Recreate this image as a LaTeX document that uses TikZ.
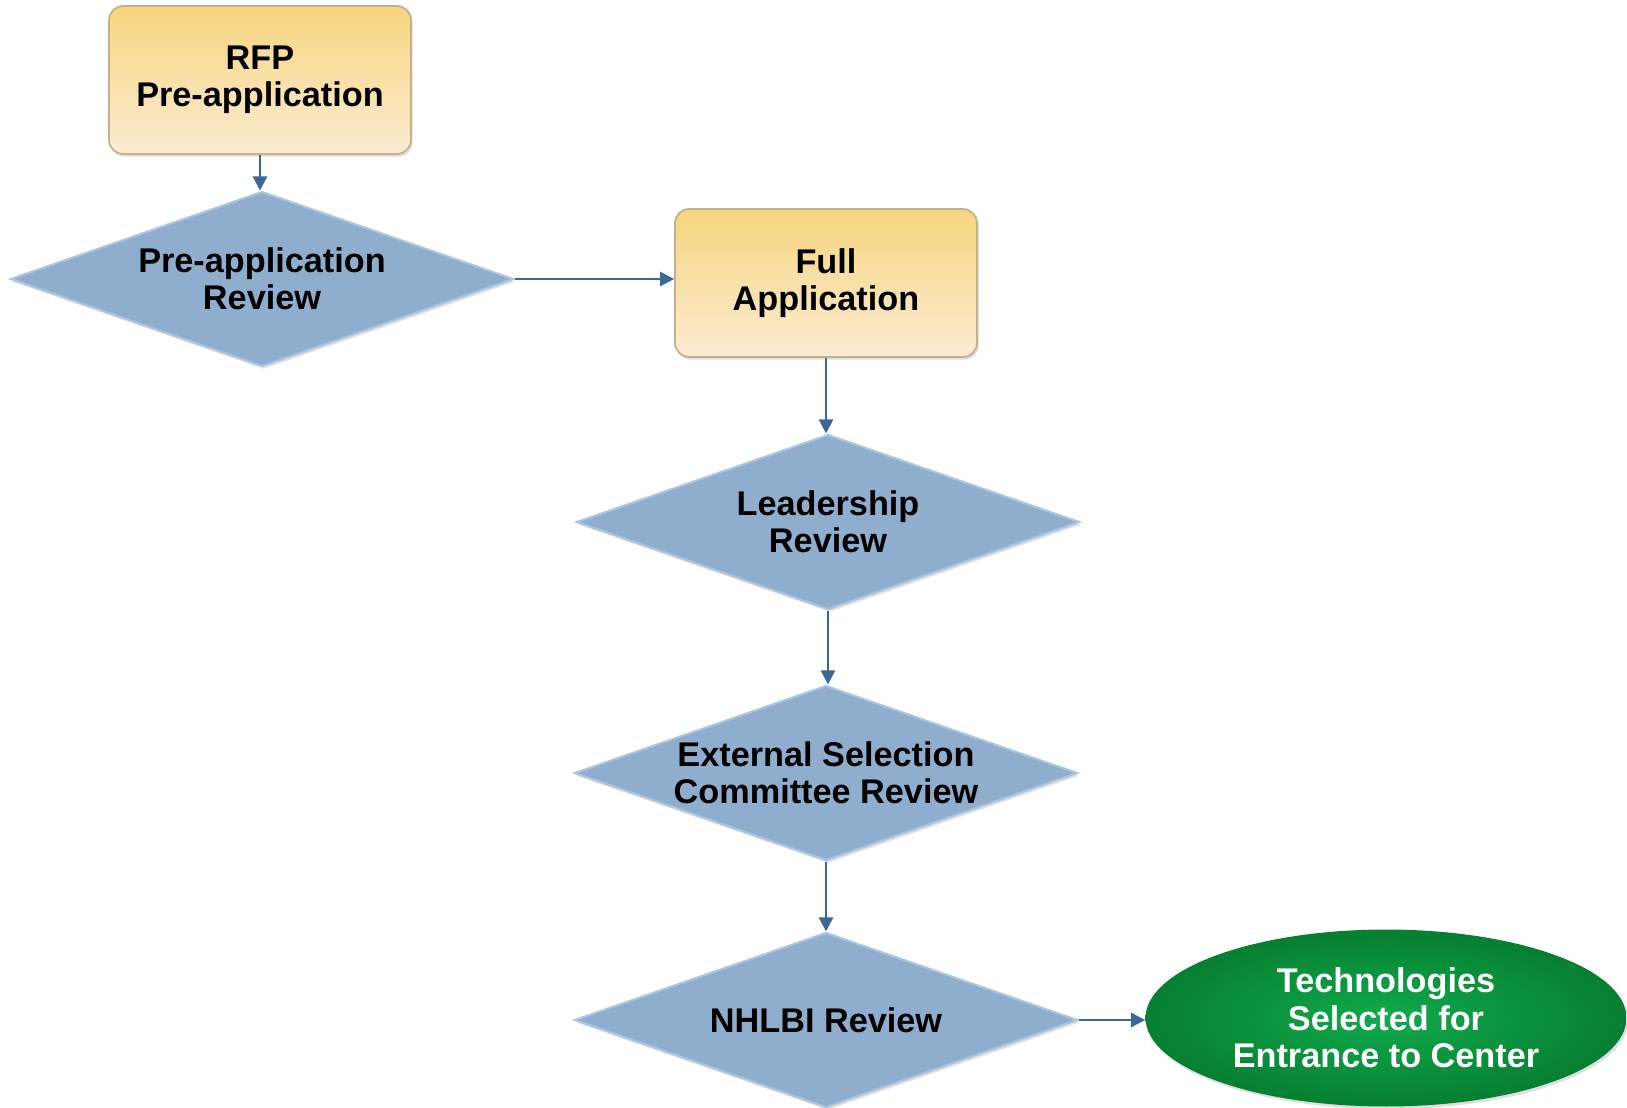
\documentclass[tikz,border=0pt]{standalone}
\usepackage{fontspec}
\setmainfont{Liberation Sans}
\usetikzlibrary{shapes.geometric,arrows.meta,shadows}

\definecolor{boxtop}{HTML}{F6D57F}
\definecolor{boxbottom}{HTML}{FBEBD2}
\definecolor{boxline}{HTML}{C4B08A}
\definecolor{diafill}{HTML}{8FADCD}
\definecolor{dialine}{HTML}{A9C5E2}
\definecolor{flowline}{HTML}{3C6893}
\definecolor{endin}{HTML}{10AA4C}
\definecolor{endout}{HTML}{067F30}

\begin{document}
\begin{tikzpicture}[x=0.02cm,y=-0.02cm,
    every node/.style={font=\fontsize{19.5}{21.3}\selectfont\bfseries, align=center},
    stepbox/.style={rectangle, rounded corners=8pt, top color=boxtop, bottom color=boxbottom,
        draw=boxline, line width=1pt, minimum width=6.04cm, minimum height=2.96cm,
        drop shadow={opacity=0.25, shadow xshift=1pt, shadow yshift=-1.5pt}},
    reviewbox/.style={diamond, aspect=2.9, inner sep=0pt, fill=diafill, draw=dialine,
        line width=1.2pt, minimum width=10.06cm, minimum height=3.5cm,
        drop shadow={opacity=0.25, shadow xshift=1pt, shadow yshift=-1.5pt}},
    endbox/.style={ellipse, inner sep=0pt, inner color=endin, outer color=endout,
        text=white, minimum width=9.62cm, minimum height=3.54cm,
        drop shadow={opacity=0.25, shadow xshift=1pt, shadow yshift=-1.5pt}},
    flow/.style={draw=flowline, line width=1.4pt, -{Triangle[length=8pt,width=8pt]}}]

    \useasboundingbox (0,0) rectangle (1627,1107);

    % boxes
    \node[stepbox] (rfp) at (260, 80) {RFP\\Pre-application};
    \node[stepbox] (fullapp) at (826, 283) {Full\\Application};

    % review steps
    \node[reviewbox] (prereview) at (262, 279) {Pre-application\\Review};
    \node[reviewbox] (leadreview) at (828, 522) {Leadership\\Review};
    \node[reviewbox] (extreview) at (826, 773) {External Selection\\Committee Review};
    \node[reviewbox] (nhlbireview) at (826, 1020) {NHLBI Review};

    % result
    \node[endbox] (selected) at (1386, 1018) {Technologies\\Selected for\\Entrance to Center};

    % arrows
    \draw[flow] (rfp.south) -- (rfp.south |- prereview.north);
    \draw[flow] (prereview.east) -- (prereview.east -| fullapp.west);
    \draw[flow] (fullapp.south) -- (fullapp.south |- leadreview.north);
    \draw[flow] (leadreview.south) -- (leadreview.south |- extreview.north);
    \draw[flow] (extreview.south) -- (extreview.south |- nhlbireview.north);
    \draw[flow] (nhlbireview.east) -- (nhlbireview.east -| selected.west);

\end{tikzpicture}
\end{document}
